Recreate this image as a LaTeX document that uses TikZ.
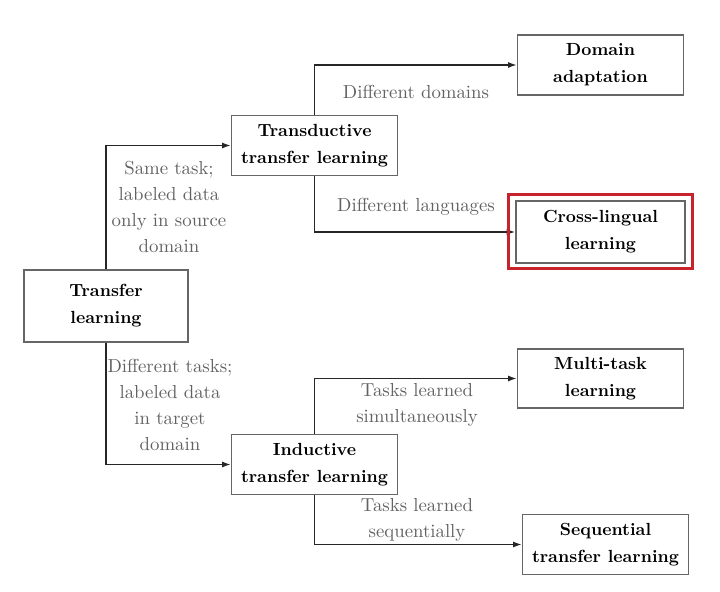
\documentclass[tikz,border=0pt]{standalone}
\usepackage{tikz}
\usetikzlibrary{arrows.meta}
\pgfdeclarelayer{edgelayer}
\pgfdeclarelayer{nodelayer}
\pgfsetlayers{edgelayer,nodelayer,main}
\definecolor{hlred}{RGB}{200,35,45}
\tikzstyle{edge}=[draw=black!85, line width=0.9pt, -{Latex[length=5pt,width=3.5pt]}]
\tikzstyle{box}=[rectangle, fill=white, draw=black!60, line width=0.8pt, align=center, minimum width=3.32cm, minimum height=1.2cm, font=\fontsize{10}{15.4}\selectfont\bfseries]
\tikzstyle{lbl}=[align=center, text=black!62, font=\fontsize{10.7}{14.8}\selectfont]

\begin{document}
\begin{tikzpicture}
				\useasboundingbox (0, 0) rectangle (14.4, 11.84);
				\begin{pgfonlayer}{nodelayer}
					\node [style=box, minimum width=3.28cm, minimum height=1.44cm] (tl) at (2.12, 5.72) {Transfer\\learning};
					\node [style=box] (tdl) at (6.29, 8.93) {Transductive\\transfer learning};
					\node [style=box] (idl) at (6.29, 2.55) {Inductive\\transfer learning};
					\node [style=box] (da) at (12.01, 10.54) {Domain\\adaptation};
					\node [style=box, minimum width=3.38cm, minimum height=1.24cm] (cl) at (12.01, 7.2) {Cross-lingual\\learning};
					\node [style=box, minimum height=1.18cm] (mtl) at (12.01, 4.27) {Multi-task\\learning};
					\node [style=box] (stl) at (12.11, 0.95) {Sequential\\transfer learning};
					\node [style=lbl] (same) at (3.38, 7.7) {Same task;\\labeled data\\only in source\\domain};
					\node [style=lbl] (difft) at (3.4, 3.74) {Different tasks;\\labeled data\\in target\\domain};
					\node [style=lbl] (diffd) at (8.32, 10.0) {Different domains};
					\node [style=lbl] (diffl) at (8.32, 7.7) {Different languages};
					\node [style=lbl] (simul) at (8.34, 3.74) {Tasks learned\\simultaneously};
					\node [style=lbl] (seq) at (8.34, 1.44) {Tasks learned\\sequentially};
				\end{pgfonlayer}
				\begin{pgfonlayer}{edgelayer}
					\draw [style=edge] (tl.north) |- (tdl.west);
					\draw [style=edge] (tl.south) |- (idl.west);
					\draw [style=edge] (tdl.north) |- (da.west);
					\draw [style=edge] (tdl.south) |- (cl.west);
					\draw [style=edge] (idl.north) |- (mtl.west);
					\draw [style=edge] (idl.south) |- (stl.west);
				\end{pgfonlayer}
				% highlight
				\draw [hlred, line width=1.6pt] ([shift={(-0.13, -0.1)}]cl.south west) rectangle ([shift={(0.13, 0.12)}]cl.north east);
			\end{tikzpicture}
\end{document}
